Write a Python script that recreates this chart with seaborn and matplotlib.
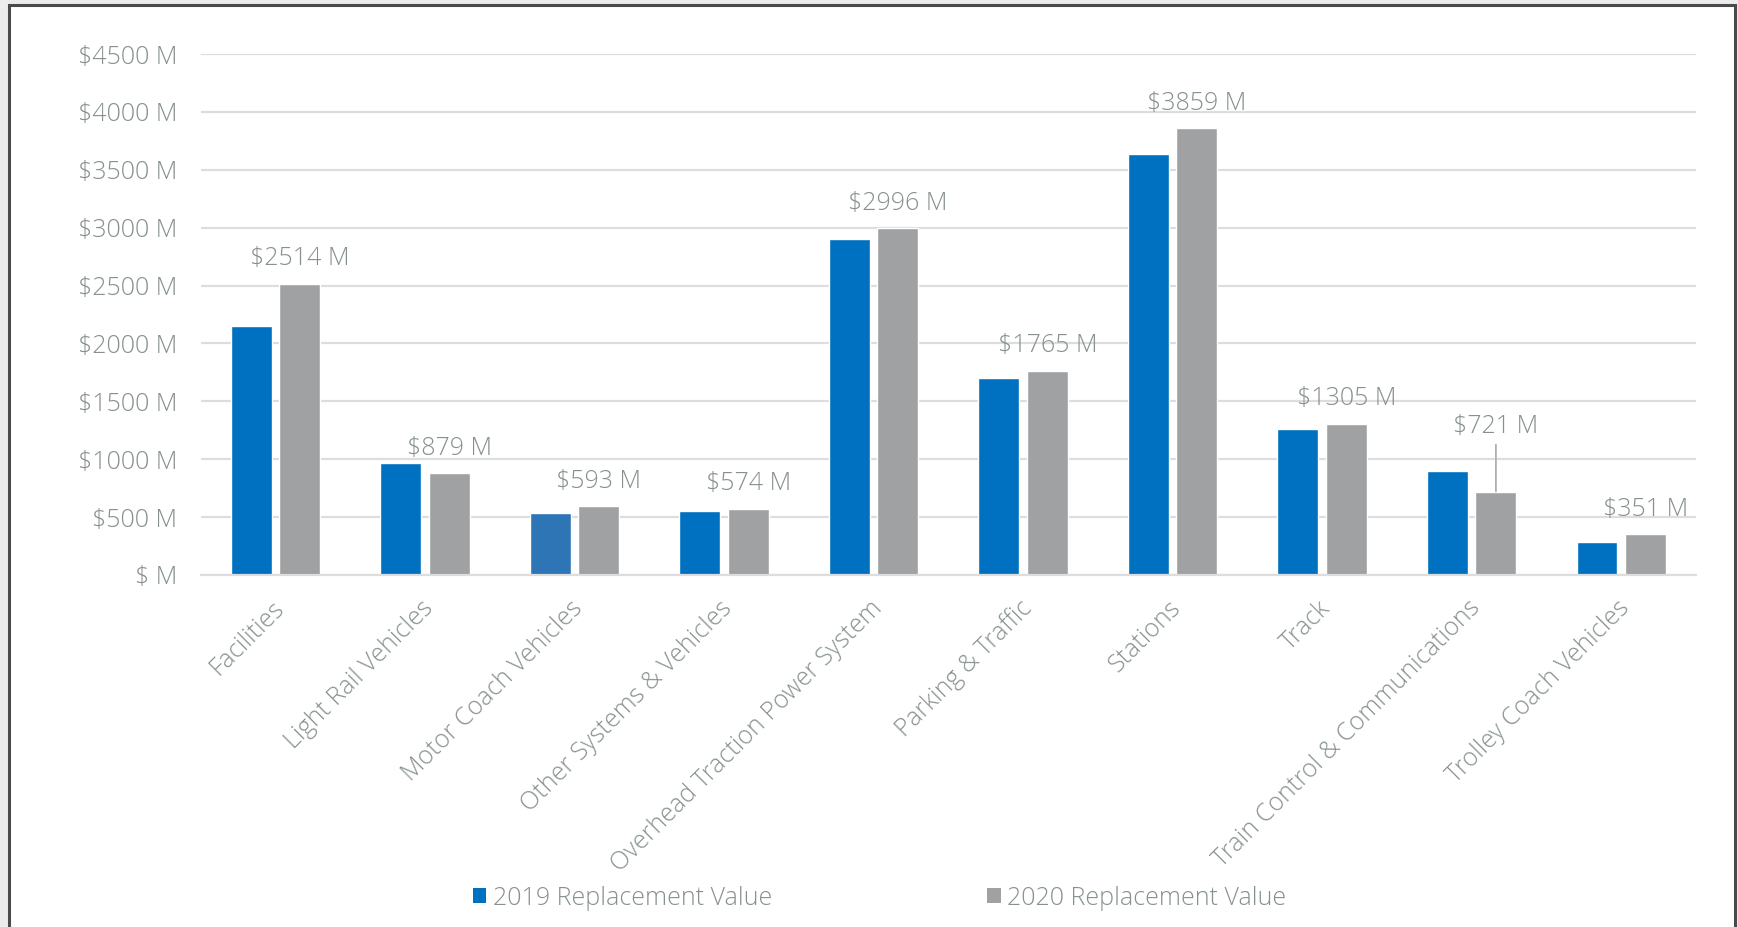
import matplotlib
matplotlib.use("Agg")
import matplotlib.pyplot as plt
import matplotlib.patches as mpatches
import matplotlib.transforms as mtransforms
import seaborn as sns
import pandas as pd
import numpy as np

categories = ["Facilities", "Light Rail Vehicles", "Motor Coach Vehicles",
              "Other Systems & Vehicles", "Overhead Traction Power System",
              "Parking & Traffic", "Stations", "Track",
              "Train Control & Communications", "Trolley Coach Vehicles"]
values_2019 = [2150, 970, 535, 553, 2898, 1701, 3638, 1258, 901, 282]
values_2020 = [2514, 879, 593, 574, 2996, 1765, 3859, 1305, 721, 351]
series_names = ["2019 Replacement Value", "2020 Replacement Value"]
y_ticks = [0, 500, 1000, 1500, 2000, 2500, 3000, 3500, 4000, 4500]
y_tick_labels = ["$ M", "$500 M", "$1000 M", "$1500 M", "$2000 M", "$2500 M",
                 "$3000 M", "$3500 M", "$4000 M", "$4500 M"]

df = pd.DataFrame({
    "category": categories * 2,
    "value": values_2019 + values_2020,
    "series": [series_names[0]] * len(categories) + [series_names[1]] * len(categories),
})

BLUE = "#0070C0"
GRAY = "#A0A1A3"
TEXT = "#86918F"
GRID = "#DDDDDD"
FS = 18

sns.set_theme(style="white")
plt.rcParams["font.family"] = ["Open Sans", "DejaVu Sans"]
plt.rcParams["font.weight"] = "light"

fig = plt.figure(figsize=(17.38, 9.27), dpi=100, facecolor="#ECECEC")
panel = mpatches.Rectangle((9 / 1738, -0.02), (1735 - 9) / 1738, 1.02 - 5 / 927,
                           transform=fig.transFigure, facecolor="white",
                           edgecolor="#4A4A4A", linewidth=2.2, zorder=-10)
fig.patches.append(panel)

ax = fig.add_axes([200.6 / 1738, 1 - 575 / 927, (1696 - 200.6) / 1738, (575 - 54) / 927])
ax.set_facecolor("none")

sns.barplot(data=df, x="category", y="value", hue="series",
            palette=[BLUE, GRAY], saturation=1, width=0.648, gap=0.154,
            ax=ax, legend=False, zorder=2)

ax.containers[0].patches[2].set_facecolor("#2E75B6")

ax.set_ylim(0, 4500)
ax.set_xlim(-0.5, len(categories) - 0.5)
ax.set_yticks(y_ticks)
ax.set_yticklabels(y_tick_labels)
ax.yaxis.grid(True, color=GRID, linewidth=1.6, zorder=0)
ax.set_axisbelow(True)
ax.set_xlabel("")
ax.set_ylabel("")
for s in ["top", "right", "left"]:
    ax.spines[s].set_visible(False)
ax.spines["bottom"].set_color(GRID)
ax.spines["bottom"].set_linewidth(1.6)

ax.tick_params(axis="y", length=0, pad=17, labelsize=FS, labelcolor=TEXT)
ax.set_xticks(range(len(categories)))
ax.set_xticks(np.arange(-0.5, len(categories) + 0.5, 1), minor=True)
ax.tick_params(axis="x", which="major", length=0, pad=15, labelsize=FS, labelcolor=TEXT)
ax.tick_params(axis="x", which="minor", length=8, width=1.6, color=GRID, direction="out")
ax.set_xticklabels(categories, rotation=45, ha="right", rotation_mode="anchor")
offset = mtransforms.ScaledTranslation(-4 / 100, 0, fig.dpi_scale_trans)
for lbl in ax.get_xticklabels():
    lbl.set_transform(lbl.get_transform() + offset)
    lbl.set_fontweight("light")
for lbl in ax.get_yticklabels():
    lbl.set_fontweight("light")

for i, (p, v) in enumerate(zip(ax.containers[1].patches, values_2020)):
    cx = p.get_x() + p.get_width() / 2
    top = p.get_height()
    if categories[i] == "Train Control & Communications":
        ax.annotate(f"${v} M", xy=(cx, top), xytext=(0, 38), textcoords="offset points",
                    ha="center", va="bottom", fontsize=FS, color=TEXT, fontweight="light",
                    arrowprops=dict(arrowstyle="-", color="#B0B0B0", lw=1.3,
                                    shrinkA=2, shrinkB=0))
    else:
        ax.annotate(f"${v} M", xy=(cx, top), xytext=(0, 9), textcoords="offset points",
                    ha="center", va="bottom", fontsize=FS, color=TEXT, fontweight="light")

handles = [mpatches.Patch(facecolor=BLUE, edgecolor="none"),
           mpatches.Patch(facecolor=GRAY, edgecolor="none")]
leg = fig.legend(handles, series_names, loc="center", bbox_to_anchor=(0.506, 0.031),
                 ncol=2, frameon=False, fontsize=FS, handlelength=0.55, handleheight=0.55,
                 handletextpad=0.25, columnspacing=8.6)
for t in leg.get_texts():
    t.set_color(TEXT)
    t.set_fontweight("light")

fig.savefig("out.png", dpi=100, facecolor=fig.get_facecolor())
